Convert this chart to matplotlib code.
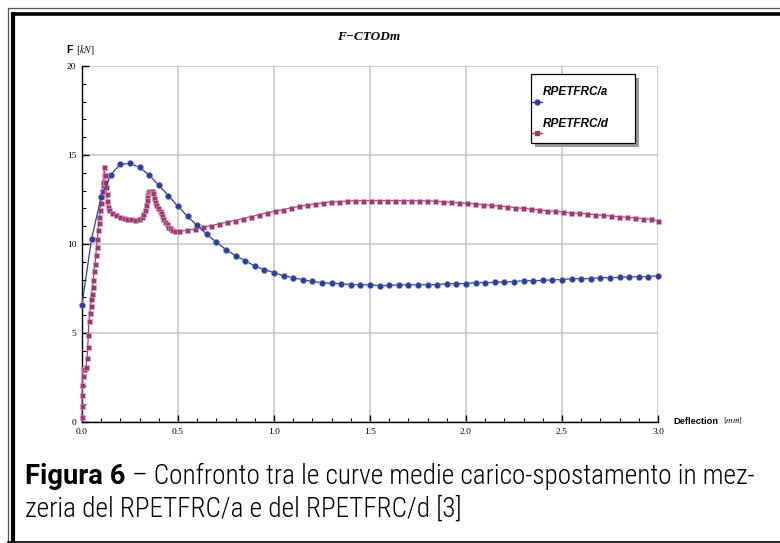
import matplotlib
matplotlib.use("Agg")
import matplotlib.pyplot as plt
from matplotlib.lines import Line2D
from matplotlib.patches import Rectangle

plt.rcParams['mathtext.fontset'] = 'stix'

# --- dati ---
# RPETFRC/a (passo 0.05 mm)
x_a = [0.00, 0.05, 0.10, 0.15, 0.20, 0.25, 0.30, 0.35, 0.40, 0.45,
       0.50, 0.55, 0.60, 0.65, 0.70, 0.75, 0.80, 0.85, 0.90, 0.95,
       1.00, 1.05, 1.10, 1.15, 1.20, 1.25, 1.30, 1.35, 1.40, 1.45,
       1.50, 1.55, 1.60, 1.65, 1.70, 1.75, 1.80, 1.85, 1.90, 1.95,
       2.00, 2.05, 2.10, 2.15, 2.20, 2.25, 2.30, 2.35, 2.40, 2.45,
       2.50, 2.55, 2.60, 2.65, 2.70, 2.75, 2.80, 2.85, 2.90, 2.95, 3.00]
F_a = [6.60, 10.30, 12.65, 13.90, 14.48, 14.53, 14.30, 13.87, 13.30, 12.72,
       12.11, 11.55, 11.04, 10.54, 10.10, 9.68, 9.34, 9.06, 8.76, 8.56,
       8.39, 8.22, 8.11, 7.99, 7.90, 7.83, 7.79, 7.77, 7.72, 7.71,
       7.71, 7.66, 7.67, 7.70, 7.71, 7.71, 7.71, 7.72, 7.77, 7.77,
       7.78, 7.83, 7.83, 7.84, 7.88, 7.89, 7.94, 7.94, 7.95, 7.99,
       8.00, 8.05, 8.05, 8.06, 8.11, 8.11, 8.12, 8.16, 8.16, 8.17, 8.22]

# RPETFRC/d
x_d = [0.000, 0.000, 0.001, 0.002, 0.003, 0.005, 0.012, 0.021, 0.026, 0.030,
       0.033, 0.036, 0.041, 0.045, 0.048, 0.050, 0.055, 0.059, 0.063, 0.068,
       0.072, 0.076, 0.080, 0.085, 0.088, 0.090, 0.094, 0.097, 0.100, 0.106,
       0.109, 0.111, 0.114, 0.116, 0.119, 0.122, 0.125, 0.128, 0.132, 0.137,
       0.142, 0.155, 0.175, 0.198, 0.217, 0.236, 0.256, 0.276, 0.295, 0.311,
       0.320, 0.328, 0.333, 0.337, 0.341, 0.345, 0.351, 0.357, 0.363, 0.368,
       0.374, 0.380, 0.388, 0.397, 0.404, 0.410, 0.417, 0.424, 0.432, 0.441,
       0.449, 0.458, 0.470, 0.484,
       0.504, 0.546, 0.588, 0.629, 0.671, 0.713, 0.754, 0.796, 0.838, 0.879,
       0.921, 0.963, 1.004, 1.046, 1.088, 1.129, 1.171, 1.213, 1.254, 1.296,
       1.338, 1.379, 1.421, 1.463, 1.504, 1.546, 1.588, 1.629, 1.671, 1.713,
       1.754, 1.796, 1.838, 1.879, 1.921, 1.963, 2.004, 2.046, 2.088, 2.129,
       2.171, 2.213, 2.254, 2.296, 2.338, 2.379, 2.421, 2.463, 2.504, 2.546,
       2.588, 2.629, 2.671, 2.713, 2.754, 2.796, 2.838, 2.879, 2.921, 2.963, 3.000]
F_d = [0.30, 0.90, 1.50, 2.10, 2.60, 3.00, 3.00, 3.10, 3.60, 4.20,
       4.90, 5.70, 6.10, 6.50, 6.90, 7.20, 7.60, 8.00, 8.50, 8.90,
       9.40, 9.85, 10.30, 10.80, 11.20, 11.50, 11.90, 12.30, 12.70, 13.00,
       13.30, 13.50, 13.90, 14.30, 13.90, 13.50, 13.20, 12.80, 12.40, 12.10,
       11.90, 11.76, 11.62, 11.53, 11.47, 11.42, 11.38, 11.35, 11.40, 11.53,
       11.70, 11.91, 12.20, 12.47, 12.75, 12.94, 13.00, 13.00, 12.95, 12.85,
       12.60, 12.38, 12.20, 12.00, 11.86, 11.72, 11.55, 11.39, 11.24, 11.10,
       10.98, 10.88, 10.80, 10.74,
       10.72, 10.76, 10.84, 10.93, 11.03, 11.13, 11.22, 11.32, 11.42, 11.54,
       11.65, 11.75, 11.83, 11.93, 12.03, 12.11, 12.18, 12.25, 12.31, 12.35,
       12.38, 12.41, 12.43, 12.44, 12.44, 12.44, 12.44, 12.44, 12.44, 12.43,
       12.43, 12.42, 12.40, 12.37, 12.34, 12.31, 12.28, 12.25, 12.21, 12.17,
       12.13, 12.09, 12.05, 12.00, 11.96, 11.92, 11.87, 11.83, 11.79, 11.75,
       11.72, 11.69, 11.65, 11.61, 11.57, 11.53, 11.50, 11.46, 11.42, 11.38, 11.31]

serie = ['RPETFRC/a', 'RPETFRC/d']
blu = '#2e3f96'
viola = '#9a3a6f'

W, H = 780, 543
fig = plt.figure(figsize=(W / 100, H / 100), dpi=100)


def fx(x):
    return x / W


def fy(y):
    return 1 - y / H


# assi: x 0 -> 82 px, x 3 -> 658 px; y 0 -> 422 px, y 20 -> 66 px
ax = fig.add_axes([fx(82), fy(422), fx(658 - 82), (422 - 66) / H])
ax.set_xlim(0, 3.0)
ax.set_ylim(0, 20)

ax.plot(x_d, F_d, color=viola, lw=0.9, marker='s', ms=3.6,
        mfc=viola, mec='#d9a6c4', mew=0.4, zorder=3, clip_on=False)
ax.plot(x_a, F_a, color=blu, lw=0.9, marker='o', ms=4.4,
        mfc=blu, mec='#8f9ad0', mew=0.4, zorder=4, clip_on=False)

ax.set_xticks([0.0, 0.5, 1.0, 1.5, 2.0, 2.5, 3.0])
ax.set_xticklabels(['0.0', '0.5', '1.0', '1.5', '2.0', '2.5', '3.0'])
ax.set_xticks([i / 10 for i in range(31)], minor=True)
ax.set_yticks([0, 5, 10, 15, 20])
ax.set_yticks(list(range(21)), minor=True)
ax.grid(True, which='major', color='#c4c4c4', lw=1.1)
ax.set_axisbelow(True)
for s in ['top', 'right']:
    ax.spines[s].set_visible(False)
for s in ['left', 'bottom']:
    ax.spines[s].set_linewidth(1.0)
ax.tick_params(which='major', direction='in', length=5, width=1.0,
               labelsize=6.8, pad=4)
ax.tick_params(which='minor', direction='in', length=3, width=0.8)
for lab in ax.get_xticklabels() + ax.get_yticklabels():
    lab.set_family('Liberation Serif')

# titolo ed etichette
fig.text(fx(369), fy(37), 'F\u2212CTODm', family='Liberation Serif',
         weight='bold', style='italic', size=9.5, ha='center', va='center')
fig.text(fx(66), fy(50), 'F', family='Liberation Sans', weight='bold',
         size=7.5, ha='left', va='center')
fig.text(fx(76), fy(50), r'$[kN]$', size=7, ha='left', va='center')
fig.text(fx(673), fy(421), 'Deflection', family='Liberation Sans',
         weight='bold', size=6.7, ha='left', va='center')
fig.text(fx(723), fy(421), r'$[mm]$', size=6.5, ha='left', va='center')

# legenda
fig.add_artist(Rectangle((fx(534.5), fy(146.5)), fx(104), (146.5 - 77.5) / H,
                         transform=fig.transFigure, fc='#9a9a9a', ec='none'))
fig.add_artist(Rectangle((fx(530.5), fy(142.5)), fx(104), (142.5 - 73.5) / H,
                         transform=fig.transFigure, fc='white', ec='black', lw=0.9))
fig.add_artist(Line2D([fx(531.5), fx(541.5)], [fy(101.5), fy(101.5)],
                      transform=fig.transFigure, color=blu, lw=0.9))
fig.add_artist(Line2D([fx(531.5), fx(541.5)], [fy(132.5), fy(132.5)],
                      transform=fig.transFigure, color=viola, lw=0.9))
fig.add_artist(Line2D([fx(536.5)], [fy(132.5)], transform=fig.transFigure,
                      color=viola, marker='s', ms=3, ls='none'))
fig.add_artist(Line2D([fx(536.5)], [fy(101.5)], transform=fig.transFigure,
                      color=blu, marker='o', ms=3.5, ls='none'))
fig.text(fx(543), fy(92), serie[0], family='Liberation Sans', weight='bold',
         style='italic', size=8.5, ha='left', va='center')
fig.text(fx(543), fy(124), serie[1], family='Liberation Sans', weight='bold',
         style='italic', size=8.5, ha='left', va='center')

# cornice
fig.add_artist(Line2D([fx(8), fx(8)], [fy(8), fy(543)], transform=fig.transFigure,
                      color='#555555', lw=0.9))
fig.add_artist(Line2D([fx(8), fx(780)], [fy(8), fy(8)], transform=fig.transFigure,
                      color='#555555', lw=0.9))
fig.add_artist(Line2D([fx(13), fx(13)], [fy(12), fy(543)], transform=fig.transFigure,
                      color='black', lw=3.0, solid_capstyle='butt'))
fig.add_artist(Line2D([fx(11), fx(780)], [fy(13.7), fy(13.7)], transform=fig.transFigure,
                      color='black', lw=2.6, solid_capstyle='butt'))
fig.add_artist(Line2D([fx(8), fx(780)], [fy(541.5), fy(541.5)], transform=fig.transFigure,
                      color='black', lw=1.2))

# didascalia
cap_font = ['Roboto Condensed', 'DejaVu Sans']
t1 = fig.text(fx(25), fy(484), 'Figura 6', family=['Roboto', 'DejaVu Sans'],
              weight='bold', size=19.7, ha='left', va='baseline')
r = fig.canvas.get_renderer()
bb = t1.get_window_extent(renderer=r)
fig.text(bb.x1 / W, fy(484), ' \u2013 Confronto tra le curve medie carico-spostamento in mez-',
         family=cap_font, weight='light', size=19.6, ha='left', va='baseline')
fig.text(fx(25), fy(517), 'zeria del RPETFRC/a e del RPETFRC/d [3]',
         family=cap_font, weight='light', size=19.6, ha='left', va='baseline')

fig.savefig('out.png', dpi=100)
